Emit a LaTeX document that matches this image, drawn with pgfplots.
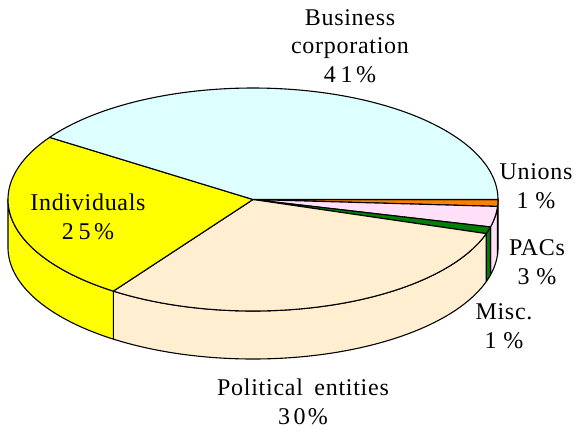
\documentclass[border=0pt]{standalone}
\usepackage{fontspec}
\setmainfont{Liberation Serif}[LetterSpace=3]
\usepackage{pgfplots}
\usepackage{pgfplotstable}
\pgfplotsset{compat=1.18}

\definecolor{busc}{HTML}{DDFFFF}
\definecolor{indc}{HTML}{FFFF00}
\definecolor{polc}{HTML}{FFEECF}
\definecolor{pacc}{HTML}{FFE0F8}
\definecolor{miscc}{HTML}{008000}
\definecolor{unic}{HTML}{FF8000}

% shares, clockwise from 3 o'clock
\pgfplotstableread{
label value
Unions 1
PACs 3
Misc 1
Political 30
Individuals 25
Business 41
}\piedata

\newcommand\cx{253}
\newcommand\cy{199.5}
\newcommand\ra{245}
\newcommand\rb{111.5}
\newcommand\dep{48}

% top sector between angles #2 and #3
\newcommand\sector[3]{%
  \addplot[draw=black, line width=1.1pt, line join=round, fill=#1,
    domain=-0.01:1.01, samples=103, variable=\s]
  ({\cx + and(\s>-0.005,\s<1.005)*\ra*cos(#2+(#3-#2)*min(max(\s,0),1))},
   {\cy - and(\s>-0.005,\s<1.005)*\rb*sin(#2+(#3-#2)*min(max(\s,0),1))}) -- cycle;
}
% side wall between angles #2 and #3
\newcommand\wall[3]{%
  \addplot[draw=black, line width=1.1pt, line join=round, fill=#1,
    domain=0:3, samples=301, variable=\s]
  ({\cx + \ra*cos((\s<1.5)*(#2+(#3-#2)*min(\s,1)) + (\s>=1.5)*(#3+(#2-#3)*max(\s-2,0)))},
   {\cy - \rb*sin((\s<1.5)*(#2+(#3-#2)*min(\s,1)) + (\s>=1.5)*(#3+(#2-#3)*max(\s-2,0))) + \dep*(\s>=1.5)}) -- cycle;
}

\begin{document}
\begin{tikzpicture}
% cumulative angles
\pgfmathsetmacro\total{0}
\pgfplotsforeachungrouped \i in {0,...,5}{%
  \pgfplotstablegetelem{\i}{value}\of\piedata
  \pgfmathsetmacro\total{\total+\pgfplotsretval}%
}
\pgfmathsetmacro\cum{0}
\expandafter\xdef\csname ang0\endcsname{0}
\pgfplotsforeachungrouped \i in {0,...,5}{%
  \pgfplotstablegetelem{\i}{value}\of\piedata
  \pgfmathsetmacro\cum{\cum+\pgfplotsretval}%
  \pgfmathtruncatemacro\j{\i+1}%
  \pgfmathsetmacro\tmp{-360*(\cum/\total)}%
  \expandafter\xdef\csname ang\j\endcsname{\tmp}%
}
\begin{axis}[scale only axis, width=577pt, height=431pt,
  xmin=0, xmax=577, ymin=0, ymax=431, y dir=reverse,
  hide axis, clip=false]
% walls (front half only)
\wall{unic}{\csname ang0\endcsname}{\csname ang1\endcsname}
\wall{pacc}{\csname ang1\endcsname}{\csname ang2\endcsname}
\wall{miscc}{\csname ang2\endcsname}{\csname ang3\endcsname}
\wall{polc}{\csname ang3\endcsname}{\csname ang4\endcsname}
\wall{indc}{\csname ang4\endcsname}{-180}
% tops
\sector{unic}{\csname ang0\endcsname}{\csname ang1\endcsname}
\sector{pacc}{\csname ang1\endcsname}{\csname ang2\endcsname}
\sector{miscc}{\csname ang2\endcsname}{\csname ang3\endcsname}
\sector{polc}{\csname ang3\endcsname}{\csname ang4\endcsname}
\sector{indc}{\csname ang4\endcsname}{\csname ang5\endcsname}
\sector{busc}{\csname ang5\endcsname}{\csname ang6\endcsname}
% labels
\tikzset{lab/.style={align=center, inner sep=0pt, font=\fontsize{24}{28.5}\selectfont}}
\node[lab] at (axis cs:350,46) {Business\\corporation\\4\hspace{0.2em}1\hspace{0.15em}\%};
\node[lab] at (axis cs:88,217) {Individuals\\2\hspace{0.2em}5\hspace{0.15em}\%};
\node[lab] at (axis cs:536,186) {Unions\\1 \%};
\node[lab] at (axis cs:537,262) {PACs\\3 \%};
\node[lab] at (axis cs:504,326) {Misc.\\1 \%};
\node[lab] at (axis cs:303,402) {Political\hspace{0.2em} entities\\3\hspace{0.15em}0\hspace{0.1em}\%};
\end{axis}
\pgfresetboundingbox
\path[use as bounding box] (0,0) rectangle (577pt,431pt);
\end{tikzpicture}
\end{document}
